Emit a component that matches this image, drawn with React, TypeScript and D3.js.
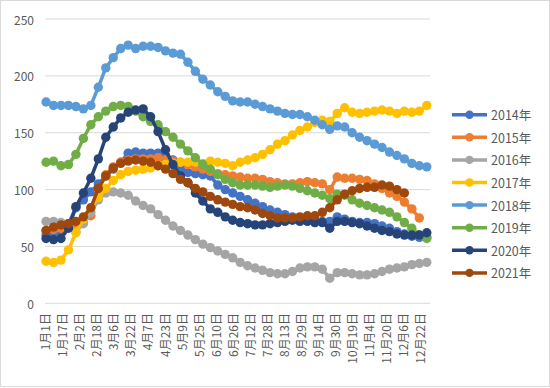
import * as d3 from "d3";

// weekly values, one point per week starting 1月1日
const s2014 = [60, 62, 62, 70, 84, 91, 98, 105, 112, 118, 124, 132, 133, 132, 132, 132, 130, 126, 118, 115, 114, 113, 112, 104, 100, 97, 94, 91, 88, 85, 82, 80, 78, 76, 74, 73, 73, 72, 72, 76, 74, 72, 71, 71, 70, 68, 66, 63, 61, 59, 58, 58];
const s2015 = [64, 65, 66, 68, 70, 72, 77, 100, 113, 120, 124, 126, 127, 127, 127, 128, 126, 125, 124, 122, 120, 118, 116, 114, 113, 112, 111, 110, 110, 109, 107, 106, 105, 105, 106, 107, 106, 105, 100, 111, 110, 110, 109, 108, 105, 101, 97, 94, 89, 83, 75];
const s2016 = [72, 72, 71, 68, 63, 70, 80, 91, 97, 98, 97, 95, 90, 86, 83, 78, 73, 68, 64, 60, 56, 52, 49, 46, 43, 40, 36, 33, 31, 29, 27, 26, 26, 28, 31, 32, 32, 30, 22, 27, 27, 26, 25, 25, 26, 28, 30, 31, 32, 34, 35, 36];
const s2017 = [37, 36, 38, 47, 62, 74, 84, 93, 101, 108, 113, 116, 117, 118, 119, 121, 122, 123, 124, 124, 124, 123, 125, 124, 123, 121, 124, 126, 128, 131, 135, 140, 143, 148, 152, 155, 159, 161, 160, 167, 172, 168, 167, 168, 169, 170, 169, 167, 169, 168, 169, 174];
const s2018 = [177, 174, 174, 174, 173, 171, 174, 190, 207, 216, 224, 227, 224, 226, 226, 225, 222, 220, 219, 212, 204, 197, 192, 186, 182, 178, 177, 177, 175, 173, 171, 169, 167, 166, 166, 164, 161, 157, 153, 156, 155, 150, 146, 143, 140, 137, 133, 130, 127, 123, 121, 120];
const s2019 = [124, 125, 121, 122, 131, 145, 157, 164, 169, 173, 174, 173, 169, 164, 160, 157, 151, 146, 140, 134, 128, 122, 118, 113, 109, 106, 104, 104, 104, 103, 102, 103, 104, 103, 101, 99, 97, 95, 92, 96, 95, 91, 88, 86, 84, 82, 80, 76, 71, 66, 60, 57];
const s2020 = [57, 56, 57, 66, 85, 97, 110, 127, 146, 155, 163, 168, 170, 171, 164, 151, 135, 122, 112, 106, 97, 90, 83, 80, 76, 73, 71, 70, 69, 69, 70, 71, 72, 73, 72, 72, 71, 71, 66, 72, 72, 71, 70, 68, 66, 64, 63, 61, 60, 60, 60, 62];
const s2021 = [64, 67, 69, 70, 72, 76, 84, 101, 112, 119, 123, 125, 126, 125, 124, 121, 118, 114, 109, 106, 101, 98, 94, 91, 89, 87, 85, 84, 82, 79, 77, 75, 75, 75, 76, 77, 77, 80, 84, 91, 96, 99, 101, 102, 102, 104, 103, 100, 97];

const seriesNames = ["2014年", "2015年", "2016年", "2017年", "2018年", "2019年", "2020年", "2021年"];
const seriesValues = [s2014, s2015, s2016, s2017, s2018, s2019, s2020, s2021];
const colors = ["#4472C4", "#ED7D31", "#A5A5A5", "#FFC000", "#5B9BD5", "#70AD47", "#264478", "#9E480E"];

const tickLabels = ["1月1日", "1月17日", "2月2日", "2月18日", "3月6日", "3月22日", "4月7日", "4月23日", "5月9日", "5月25日", "6月10日", "6月26日", "7月12日", "7月28日", "8月13日", "8月29日", "9月14日", "9月30日", "10月19日", "11月4日", "11月20日", "12月6日", "12月22日"];
const yTicks = [0, 50, 100, 150, 200, 250];

const W = 550;
const H = 388;
const font = "'Noto Sans CJK SC', 'DejaVu Sans', sans-serif";

export default function App() {
  // x is in days from 1月1日
  const x = d3.scaleLinear().domain([-1, 360]).range([45, 430]);
  const y = d3.scaleLinear().domain([0, 250]).range([303.3, 19]);
  const line = d3
    .line<number>()
    .x((d, i) => x(i * 7))
    .y((d) => y(d));

  return (
    <svg
      width={W}
      height={H}
      style={{ position: "absolute", left: 0, top: 0, background: "#fff" }}
      fontFamily={font}
    >
      <rect x={0.5} y={0.5} width={W - 1} height={H - 2} fill="#fff" stroke="#D9D9D9" />
      <g>
        {yTicks.map((t) => (
          <g key={t}>
            <line x1={45} x2={430} y1={y(t)} y2={y(t)} stroke="#D9D9D9" strokeWidth={1} />
            <text x={34} y={y(t)} textAnchor="end" dominantBaseline="central" fontSize={12} fill="#595959">
              {t}
            </text>
          </g>
        ))}
      </g>
      <g>
        {tickLabels.map((t, i) => (
          <text
            key={t}
            transform={`translate(${x(i * 16) + 4},${313}) rotate(-90)`}
            textAnchor="end"
            fontSize={12}
            fill="#595959"
          >
            {t}
          </text>
        ))}
      </g>
      <g>
        {seriesValues.map((vals, s) => (
          <g key={seriesNames[s]}>
            <path d={line(vals) || ""} fill="none" stroke={colors[s]} strokeWidth={3.5} strokeLinejoin="round" />
            {vals.map((v, i) => (
              <circle key={i} cx={x(i * 7)} cy={y(v)} r={4.7} fill={colors[s]} />
            ))}
          </g>
        ))}
      </g>
      <g>
        {seriesNames.map((name, s) => {
          const ly = 114.7 + s * 22.6;
          return (
            <g key={name}>
              <line x1={452} x2={487} y1={ly} y2={ly} stroke={colors[s]} strokeWidth={3.5} />
              <circle cx={469.5} cy={ly} r={4.2} fill={colors[s]} />
              <text x={491} y={ly} dominantBaseline="central" fontSize={12.5} fill="#595959">
                {name}
              </text>
            </g>
          );
        })}
      </g>
    </svg>
  );
}
